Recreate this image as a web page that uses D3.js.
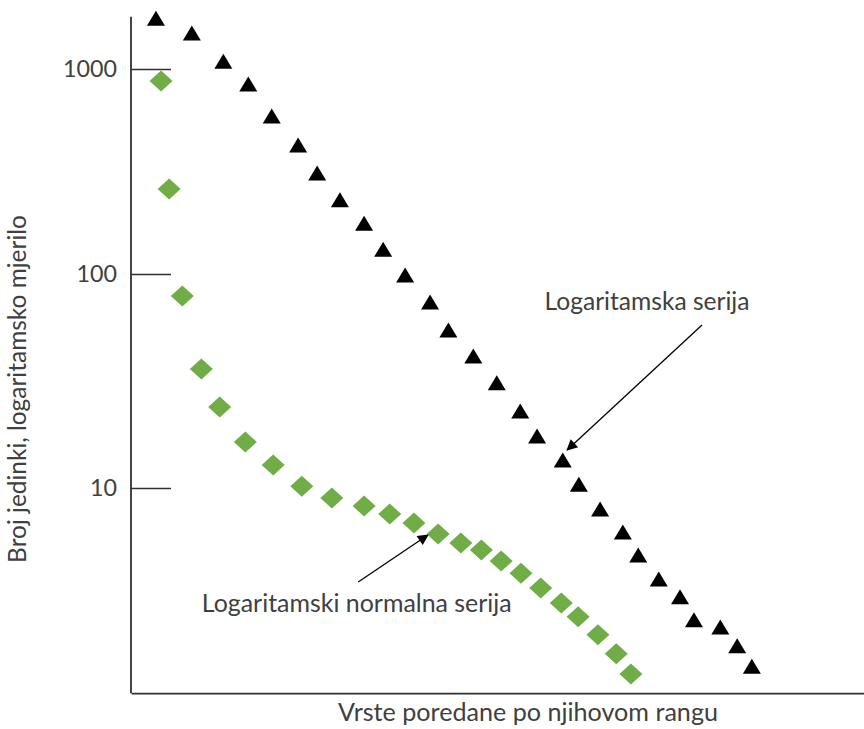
<!DOCTYPE html>
<html>
<head>
<meta charset="utf-8">
<script src="https://cdn.jsdelivr.net/npm/d3@7"></script>
<style>
  html, body { margin: 0; padding: 0; background: #fff; }
  svg { display: block; }
  text { font-family: Lato, "Open Sans", sans-serif; fill: #404040; }
</style>
</head>
<body>
<svg id="chart" width="864" height="729"></svg>
<script>
// ---- data ----
// rank position (arbitrary rank units) and number of individuals (log scale)
const logSeriesRank = [3.4, 8.3, 12.6, 16.0, 19.2, 22.8, 25.4, 28.5, 31.8, 34.4, 37.4, 40.8, 43.3, 46.7, 49.9, 53.1, 55.4, 58.9, 61.1, 64.0, 67.1, 69.2, 72.0, 74.9, 76.8, 80.4, 82.7, 84.7];
const logSeriesCount = [1770, 1500, 1090, 845, 590, 426, 311, 230, 177, 132, 99, 74, 54.7, 41.4, 31, 22.9, 17.5, 13.5, 10.4, 7.98, 6.23, 4.86, 3.76, 3.1, 2.42, 2.24, 1.83, 1.47];

const logNormalRank = [4.1, 5.2, 7.0, 9.6, 12.1, 15.6, 19.4, 23.3, 27.4, 31.8, 35.3, 38.6, 41.9, 45.0, 47.8, 50.5, 53.2, 55.9, 58.7, 61.0, 63.7, 66.2, 68.2];
const logNormalCount = [874, 260, 78.9, 36, 23.9, 16.4, 12.8, 10.2, 8.98, 8.24, 7.56, 6.86, 6.1, 5.53, 5.13, 4.56, 4.0, 3.41, 2.9, 2.5, 2.06, 1.68, 1.35];

const yTickValues = [10, 100, 1000];
const yTickLabels = ["10", "100", "1000"];

const yAxisTitle = "Broj jedinki, logaritamsko mjerilo";
const xAxisTitle = "Vrste poredane po njihovom rangu";

const annotationTexts = ["Logaritamska serija", "Logaritamski normalna serija"];
const annotationLabelRank = [70.4, 30.8];
const annotationLabelCount = [68, 2.63];
const annotationFromRank = [77.9, 31.0];
const annotationFromCount = [57.8, 3.64];
const annotationToRank = [59.5, 40.5];
const annotationToCount = [15.05, 6.03];

// ---- layout ----
const svg = d3.select("#chart");
const axisX = 131, axisY = 693, rightEdge = 864;
const yDomainMin = 1.1, yDomainMax = 1800;

const x = d3.scaleLinear().domain([0, 100]).range([axisX, rightEdge]);
// piecewise log scale (the printed decades are not perfectly even)
const y = d3.scaleLog().domain([10, 100, 1000]).range([488, 274, 69]);

const green = "#70AD47";
const axisColor = "#303030";

// fitting helper: size text so it spans a target width
function fitText(sel, targetWidth, startSize) {
  sel.style("font-size", startSize + "px");
  const w = sel.node().getComputedTextLength();
  sel.style("font-size", (startSize * targetWidth / w).toFixed(2) + "px");
}

// axes
const yAxis = d3.axisLeft(y)
  .tickValues(yTickValues)
  .tickFormat((d, i) => yTickLabels[i])
  .tickSizeInner(-40)
  .tickSizeOuter(0)
  .tickPadding(14);

const gy = svg.append("g").attr("transform", `translate(${axisX},0)`).call(yAxis);
gy.select(".domain").remove();
gy.selectAll(".tick line").attr("stroke", axisColor).attr("stroke-width", 1.5);
gy.selectAll(".tick text").attr("fill", "#404040").style("font-family", "Lato, sans-serif");
gy.selectAll(".tick text").each(function(d, i) {
  const t = d3.select(this);
  fitText(t, [13.5 * 2, 13.5 * 3, 13.5 * 4][i], 20);
});

svg.append("line")
  .attr("x1", axisX).attr("x2", axisX)
  .attr("y1", y(yDomainMax)).attr("y2", y(yDomainMin))
  .attr("stroke", axisColor).attr("stroke-width", 1.8);

const xAxis = d3.axisBottom(x).tickValues([]).tickSizeOuter(0);
const gx = svg.append("g").attr("transform", `translate(0,${y(yDomainMin)})`).call(xAxis);
gx.select(".domain").attr("stroke", axisColor).attr("stroke-width", 1.8);

// axis titles
const xt = svg.append("text")
  .attr("x", 528).attr("y", 721)
  .attr("text-anchor", "middle")
  .text(xAxisTitle);
fitText(xt, 380, 22);

const yt = svg.append("text")
  .attr("transform", "translate(26,389) rotate(-90)")
  .attr("text-anchor", "middle")
  .text(yAxisTitle);
fitText(yt, 348, 20);

// markers
const triW = 18, triH = 15;
const triPath = `M0,${-triH/2}L${triW/2},${triH/2}L${-triW/2},${triH/2}Z`;
const diaW = 11.5, diaH = 10.5;
const diaPath = `M0,${-diaH}L${diaW},0L0,${diaH}L${-diaW},0Z`;

svg.append("g").selectAll("path")
  .data(logSeriesRank.map((r, i) => ({ r, c: logSeriesCount[i] })))
  .join("path")
  .attr("d", triPath)
  .attr("transform", d => `translate(${x(d.r)},${y(d.c)})`)
  .attr("fill", "#000");

svg.append("g").selectAll("path")
  .data(logNormalRank.map((r, i) => ({ r, c: logNormalCount[i] })))
  .join("path")
  .attr("d", diaPath)
  .attr("transform", d => `translate(${x(d.r)},${y(d.c)})`)
  .attr("fill", green);

// arrowhead
svg.append("defs").append("marker")
  .attr("id", "arrow")
  .attr("viewBox", "0 0 10 10")
  .attr("refX", 9).attr("refY", 5)
  .attr("markerWidth", 14).attr("markerHeight", 11)
  .attr("markerUnits", "userSpaceOnUse")
  .attr("orient", "auto")
  .append("path")
  .attr("d", "M0,0L10,5L0,10Z")
  .attr("fill", "#000");

// annotations
const annWidths = [205, 310];
annotationTexts.forEach((txt, i) => {
  svg.append("line")
    .attr("x1", x(annotationFromRank[i])).attr("y1", y(annotationFromCount[i]))
    .attr("x2", x(annotationToRank[i])).attr("y2", y(annotationToCount[i]))
    .attr("stroke", "#000").attr("stroke-width", 1.3)
    .attr("marker-end", "url(#arrow)");
  const t = svg.append("text")
    .attr("x", x(annotationLabelRank[i])).attr("y", y(annotationLabelCount[i]))
    .attr("text-anchor", "middle")
    .text(txt);
  fitText(t, annWidths[i], 20);
});
</script>
</body>
</html>
